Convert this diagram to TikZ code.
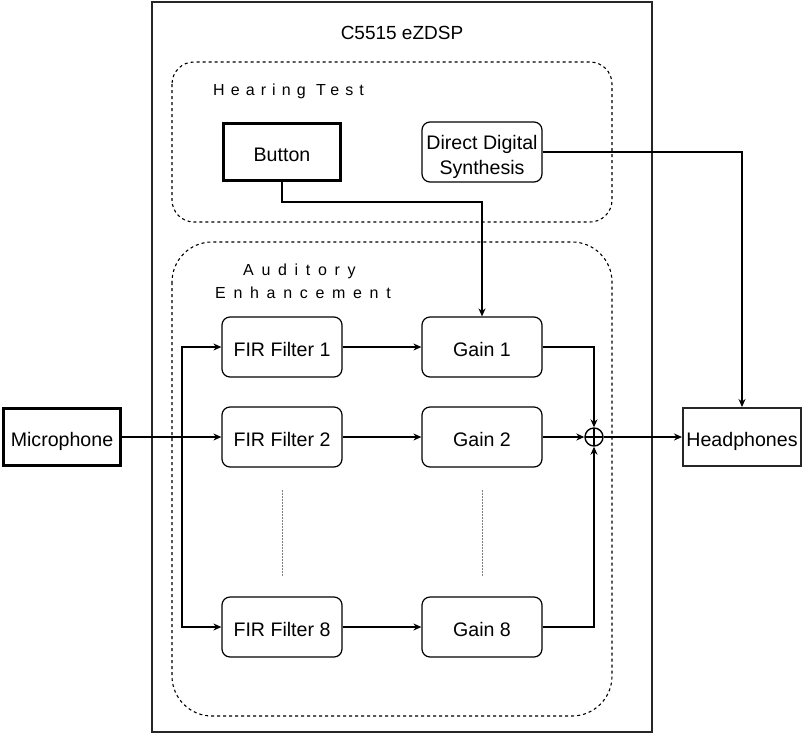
\documentclass[tikz,border=0pt]{standalone}
\usepackage{fontspec}
\setmainfont{Liberation Sans}
\newfontfamily\spacedA[LetterSpace=38]{Liberation Sans}
\newfontfamily\spacedB[LetterSpace=48]{Liberation Sans}
\usetikzlibrary{arrows.meta}
\tikzset{
  lbl/.style={font=\fontsize{19.6}{25}\selectfont},
  blk/.style={lbl, draw, line width=1.2pt, rounded corners=8pt, minimum width=120pt, minimum height=60pt, align=center, inner sep=0pt, text height=18.5pt, text depth=0pt},
  heavy/.style={lbl, draw, line width=3pt, minimum width=117pt, minimum height=57pt, inner sep=0pt, text height=18.5pt, text depth=0pt},
  grayblk/.style={lbl, draw=black!85, line width=2pt, minimum width=118pt, minimum height=58pt, inner sep=0pt, text height=18.5pt, text depth=0pt},
  arr/.style={line width=1.2pt, -{Stealth[length=8pt,width=7pt]}},
  grp/.style={draw, line width=1.1pt, dash pattern=on 3pt off 3pt},
  sumnode/.style={draw, circle, line width=1.4pt, minimum size=18pt, inner sep=0pt,
    path picture={\draw[line width=1.4pt] (path picture bounding box.north) -- (path picture bounding box.south)
      (path picture bounding box.west) -- (path picture bounding box.east);}},
  spc/.style={inner sep=0pt, anchor=base west},
  dots/.style={draw=gray, line width=0.9pt, dash pattern=on 1.5pt off 1.5pt}
}
\begin{document}
\begin{tikzpicture}[x=1pt, y=-1pt]
\useasboundingbox (0,0) rectangle (805,734);
% main board
\draw[draw=black!85, line width=2pt] (152,2) rectangle (652,732);
\node[font=\fontsize{19}{24}\selectfont] (title) at (402,33) {C5515 eZDSP};
% groups
\draw[grp, rounded corners=22pt] (172,62) rectangle (612,222);
\draw[grp, rounded corners=40pt] (172,242) rectangle (612,716);
\node[spc, font=\spacedA\fontsize{16}{20}\selectfont] (ht) at (213,95) {Hearing Test};
\node[spc, font=\spacedB\fontsize{16}{20}\selectfont] (ae1) at (243,275) {Auditory};
\node[spc, font=\spacedB\fontsize{16}{20}\selectfont] (ae2) at (215,298) {Enhancement};
% blocks
\node[heavy] (btn) at (282,152) {Button};
\node[blk, text height=44pt] (dds) at (482,152) {Direct Digital\\Synthesis};
\node[blk] (f1) at (282,347) {FIR Filter 1};
\node[blk] (f2) at (282,437) {FIR Filter 2};
\node[blk] (f8) at (282,627) {FIR Filter 8};
\node[blk] (g1) at (482,347) {Gain 1};
\node[blk] (g2) at (482,437) {Gain 2};
\node[blk] (g8) at (482,627) {Gain 8};
\node[sumnode] (sum) at (594,437) {};
\node[heavy] (mic) at (62,437) {Microphone};
\node[grayblk] (hp) at (742,437) {Headphones};
% helper coordinates
\coordinate (bus) at (182,437);
\coordinate (bk) at (482,202);
\coordinate (d1a) at (282,490);
\coordinate (d1b) at (282,577);
\coordinate (d2a) at (482,490);
\coordinate (d2b) at (482,577);
% connectors
\draw[line width=2pt] (mic.east) -- (bus);
\draw[arr] (bus) -- (f2.west);
\draw[arr] (bus) |- (f1.west);
\draw[arr] (bus) |- (f8.west);
\draw[arr] (f1) -- (g1);
\draw[arr] (f2) -- (g2);
\draw[arr] (f8) -- (g8);
\draw[arr] (g1.east) -| (sum.north);
\draw[arr] (g2.east) -- (sum.west);
\draw[arr] (g8.east) -| (sum.south);
\draw[arr] (sum.east) -- (hp.west);
\draw[arr] (btn.south) |- (bk) -- (g1.north);
\draw[arr] (dds.east) -| (hp.north);
\draw[dots] (d1a) -- (d1b);
\draw[dots] (d2a) -- (d2b);
\end{tikzpicture}
\end{document}
